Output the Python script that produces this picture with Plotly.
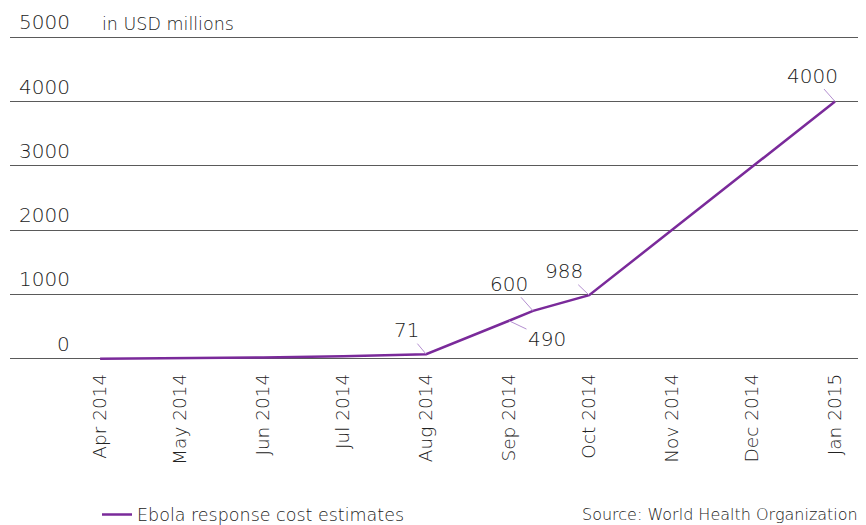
import plotly.graph_objects as go

# ---- data ----
dates = ["2014-04-01", "2014-05-01", "2014-06-01", "2014-07-01", "2014-08-01",
         "2014-09-01", "2014-09-10", "2014-10-01", "2015-01-01"]
costs = [0, 5, 20, 40, 71, 590, 745, 988, 4000]
label_dates = ["2014-08-01", "2014-09-01", "2014-09-10", "2014-10-01", "2015-01-01"]
label_vals = [71, 590, 745, 988, 4000]
label_text = ["71", "490", "600", "988", "4000"]
label_offsets = [(-20, -24), (38, 18), (-24, -27), (-25, -24), (-23, -26)]
tick_dates = ["2014-04-01", "2014-05-01", "2014-06-01", "2014-07-01", "2014-08-01",
              "2014-09-01", "2014-10-01", "2014-11-01", "2014-12-01", "2015-01-01"]
ytick_vals = [0, 1000, 2000, 3000, 4000, 5000]
series_name = "Ebola response cost estimates"
unit_label = "in USD millions"
source_text = "Source: World Health Organization"

PURPLE = "#7a2a9a"
LIGHT_PURPLE = "#b48fd0"
GRID = "#5a5a5a"
TEXT = "#222222"
FONT = "DejaVu Sans"
NUMFONT = dict(family=FONT, size=20, color=TEXT, weight=300)
TXTFONT = dict(family=FONT, size=17.5, color=TEXT, weight=300)
SRCFONT = dict(family=FONT, size=16, color=TEXT, weight=300)
TICKFONT = dict(family=FONT, size=18.5, color=TEXT, weight=300)

fig = go.Figure()
fig.add_trace(go.Scatter(
    x=dates, y=costs, mode="lines", name=series_name,
    line=dict(color=PURPLE, width=2.5),
))

annotations = []
for d, v, t, (ax, ay) in zip(label_dates, label_vals, label_text, label_offsets):
    annotations.append(dict(
        x=d, y=v, xref="x", yref="y", text=t, showarrow=True,
        arrowhead=0, arrowwidth=1, arrowcolor=LIGHT_PURPLE, ax=ax, ay=ay,
        font=NUMFONT, standoff=0,
    ))
for v in ytick_vals:
    annotations.append(dict(
        x=0, y=v, xref="paper", yref="y", text=str(v), showarrow=False,
        xanchor="right", yanchor="bottom", xshift=62, yshift=1,
        font=NUMFONT,
    ))
annotations.append(dict(
    x=0.104, y=5000, xref="paper", yref="y", text=unit_label, showarrow=False,
    xanchor="left", yanchor="bottom", yshift=1,
    font=TXTFONT,
))
annotations.append(dict(
    x=1, y=-0.474, xref="paper", yref="paper", text=source_text, showarrow=False,
    xanchor="right", yanchor="middle", xshift=-14,
    font=SRCFONT,
))

fig.update_layout(
    width=866, height=525,
    margin=dict(l=2, r=0, t=26, b=173, autoexpand=False),
    plot_bgcolor="white", paper_bgcolor="white",
    showlegend=True,
    legend=dict(orientation="h", x=0.1007, xanchor="left", y=-0.474, yanchor="middle",
                font=TXTFONT, bgcolor="rgba(0,0,0,0)"),
    annotations=annotations,
    xaxis=dict(
        type="date", range=["2014-02-26 07:00", "2015-01-15 14:00"],
        tickvals=tick_dates, tickformat="%b %Y", tickangle=-90,
        showgrid=False, zeroline=False, showline=False, ticks="",
        tickfont=TICKFONT, automargin=False, ticklabelstandoff=9,
    ),
    yaxis=dict(
        range=[-20, 5050], tickvals=ytick_vals, showticklabels=False,
        showgrid=True, gridcolor=GRID, gridwidth=1.4, zeroline=False,
        showline=False, ticks="", automargin=False,
    ),
)

fig.write_html("out.html")
